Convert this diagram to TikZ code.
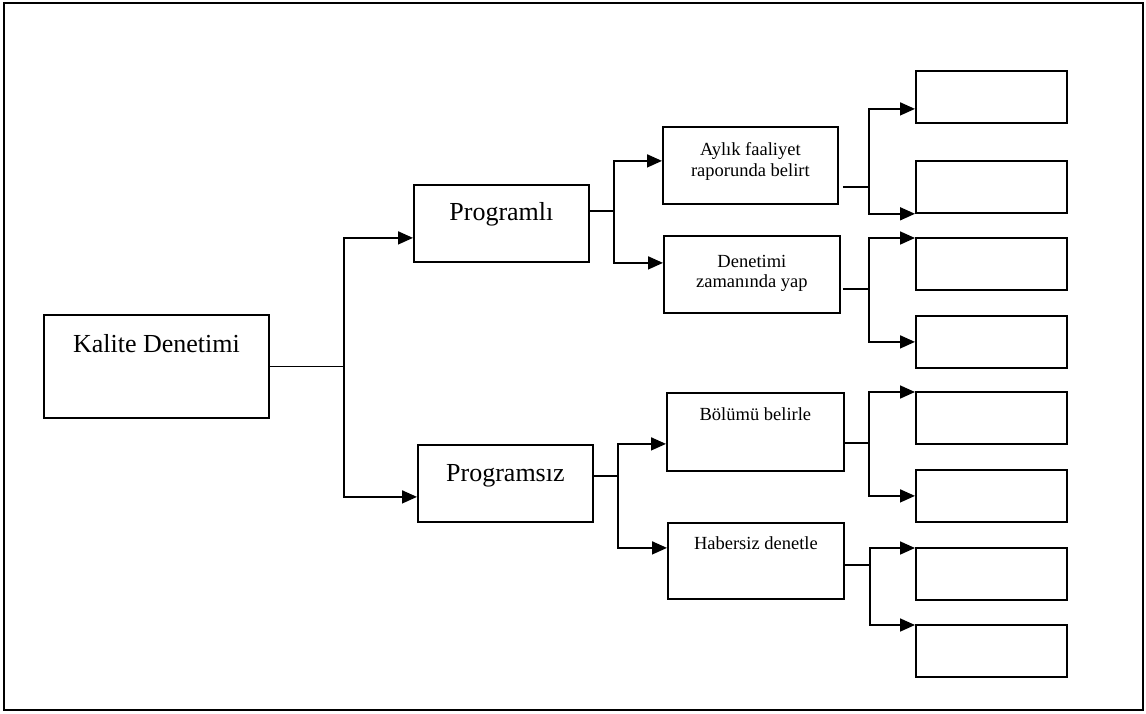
\documentclass[tikz,border=0pt]{standalone}
\usepackage{fontspec}
\setmainfont{Liberation Serif}
\usetikzlibrary{arrows.meta,calc}
\begin{document}
\begin{tikzpicture}[x=1pt,y=-1pt,
  box/.style={draw,line width=1.8pt,inner sep=0pt,anchor=north west},
  mid/.style={box,minimum width=175pt,minimum height=77pt},
  leaf/.style={box,minimum width=151pt,minimum height=52pt},
  big/.style={font=\fontsize{26}{30}\selectfont,anchor=base,inner sep=0pt},
  small/.style={font=\fontsize{18.5}{22}\selectfont,anchor=base,inner sep=0pt},
  conn/.style={line width=1.7pt},
  arr/.style={conn,-{Triangle[length=15pt,width=13pt]}}]
\useasboundingbox (0,0) rectangle (1146,713);
\draw[line width=2.2pt] (4,3) rectangle (1143,710);

% boxes
\node[box,minimum width=225pt,minimum height=103pt] (k) at (43,314) {};
\node[mid] (p1) at (413,184) {};
\node[mid] (p2) at (417,444) {};
\node[mid] (a1) at (662,126) {};
\node[mid,minimum width=176pt] (a2) at (663,235) {};
\node[mid,minimum width=177pt,minimum height=78pt] (b1) at (666,392) {};
\node[mid,minimum width=176pt,minimum height=76pt] (b2) at (667,522) {};
\node[leaf] (l1) at (915,70) {};
\node[leaf] (l2) at (915,160) {};
\node[leaf] (l3) at (915,237) {};
\node[leaf] (l4) at (915,315) {};
\node[leaf] (l5) at (915,391) {};
\node[leaf] (l6) at (915,469) {};
\node[leaf] (l7) at (915,547) {};
\node[leaf] (l8) at (915,624) {};

% texts
\node[big] (tk) at ($(k.north)+(0,38)$) {Kalite Denetimi};
\node[big] (tp1) at ($(p1.north)+(0,36)$) {Programlı};
\node[big] (tp2) at ($(p2.north)+(0,37)$) {Programsız};
\node[small] (ta1) at ($(a1.north)+(0,29)$) {Aylık faaliyet};
\node[small] (ta1b) at ($(a1.north)+(0,50)$) {raporunda belirt};
\node[small] (ta2) at ($(a2.north)+(0,32)$) {Denetimi};
\node[small] (ta2b) at ($(a2.north)+(0,52)$) {zamanında yap};
\node[small] (tb1) at ($(b1.north)+(0,28)$) {Bölümü belirle};
\node[small] (tb2) at ($(b2.north)+(0,27)$) {Habersiz denetle};

% level 1
\draw[conn] (k.east) -- ++(74,0) coordinate (c0);
\draw[arr] (c0) |- ([yshift=-14.5pt]p1.west);
\draw[arr] (c0) |- ([yshift=-13.5pt]p2.west);

% level 2
\draw[conn] ([yshift=12.5pt]p1.east) -- ++(24,0) coordinate (c1);
\draw[arr] (c1) |- ([yshift=4.5pt]a1.west);
\draw[arr] (c1) |- ([yshift=11.5pt]a2.west);
\draw[conn] ([yshift=7.5pt]p2.east) -- ++(24,0) coordinate (c2);
\draw[arr] (c2) |- ([yshift=-12pt]b1.west);
\draw[arr] (c2) |- ([yshift=13pt]b2.west);

% level 3
\draw[conn,shorten <=4pt] ([yshift=-21.5pt]a1.east) -- ++(30,0) coordinate (d1);
\draw[arr] (d1) |- ([yshift=-12pt]l1.west);
\draw[arr] (d1) |- (l2.south west);
\draw[conn,shorten <=2pt] ([yshift=-14.5pt]a2.east) -- ++(28,0) coordinate (d2);
\draw[arr] (d2) |- ([yshift=-1pt]l3.north west);
\draw[arr] (d2) |- (l4.west);
\draw[conn] ([yshift=-11pt]b1.east) -- ++(24,0) coordinate (d3);
\draw[arr] (d3) |- ([yshift=-1pt]l5.north west);
\draw[arr] (d3) |- (l6.west);
\draw[conn] ([yshift=-4pt]b2.east) -- ++(25,0) coordinate (d4);
\draw[arr] (d4) |- ([yshift=-1pt]l7.north west);
\draw[arr] (d4) |- ([yshift=-1pt]l8.north west);
\end{tikzpicture}
\end{document}
